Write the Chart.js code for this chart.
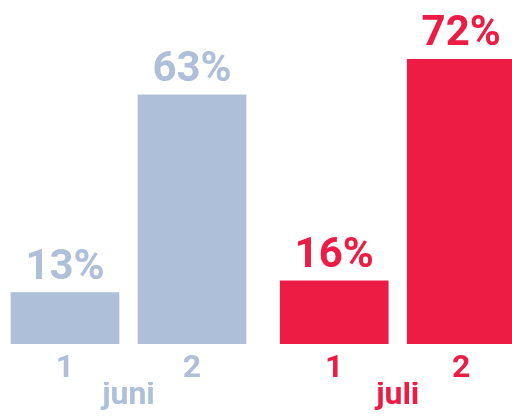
<!DOCTYPE html>
<html>
<head>
<meta charset="utf-8">
<script src="https://cdn.jsdelivr.net/npm/chart.js@4/dist/chart.umd.min.js"></script>
<style>
  html, body { margin: 0; padding: 0; background: #ffffff; }
  #wrap { width: 512px; height: 419px; }
</style>
</head>
<body>
<div id="wrap"><canvas id="c" width="512" height="419"></canvas></div>
<script>
// ---- data ----
const subLabels = ['1', '2', '1', '2'];
const groupLabels = ['juni', 'juli'];
const barGroup = [0, 0, 1, 1];
const values = [13, 63, 16, 72];
const valueLabels = ['13%', '63%', '16%', '72%'];

// ---- styles ----
const groupColors = ['#adbfd9', '#ed1c45'];
const FONT = 'Roboto';
const GROUP_GAP = 0.12;

const positions = values.map((v, i) => i + barGroup[i] * GROUP_GAP);
const groupCenters = groupLabels.map((g, gi) => {
  const ps = positions.filter((p, i) => barGroup[i] === gi);
  return ps.reduce((a, b) => a + b, 0) / ps.length;
});
const barColors = barGroup.map(g => groupColors[g]);

const X_MIN = -0.5118, X_MAX = 3.5197;

const valueLabelPlugin = {
  id: 'valueLabels',
  afterDatasetsDraw(chart) {
    const ctx = chart.ctx;
    const meta = chart.getDatasetMeta(0);
    ctx.save();
    ctx.font = 'bold 42px ' + FONT;
    ctx.textAlign = 'center';
    ctx.textBaseline = 'alphabetic';
    meta.data.forEach((bar, i) => {
      ctx.fillStyle = barColors[i];
      ctx.fillText(valueLabels[i], bar.x, bar.y - 14);
    });
    ctx.restore();
  }
};

const xCommon = {
  type: 'linear', position: 'bottom', offset: false,
  min: X_MIN, max: X_MAX, bounds: 'data',
  grid: { display: false, drawTicks: false, offset: false },
  border: { display: false }
};

new Chart(document.getElementById('c'), {
  type: 'bar',
  data: {
    datasets: [{
      data: values.map((v, i) => ({ x: positions[i], y: v })),
      backgroundColor: barColors,
      borderWidth: 0,
      barThickness: 108
    }]
  },
  options: {
    responsive: false,
    animation: false,
    devicePixelRatio: 1,
    layout: { padding: 0 },
    plugins: { legend: { display: false }, tooltip: { enabled: false } },
    scales: {
      y: { display: false, min: 0, max: 87 },
      x: Object.assign({}, xCommon, {
        weight: 1,
        afterBuildTicks(scale) { scale.ticks = positions.map(p => ({ value: p })); },
        afterFit(scale) { scale.height = 38; scale.paddingLeft = 0; scale.paddingRight = 0; },
        ticks: {
          autoSkip: false, maxRotation: 0, minRotation: 0, padding: 5.8,
          font: { family: FONT, size: 32, weight: 'bold' },
          color: (c) => barColors[c.index] || groupColors[0],
          callback: (v, i) => subLabels[i]
        }
      }),
      x2: Object.assign({}, xCommon, {
        weight: 2,
        afterBuildTicks(scale) { scale.ticks = groupCenters.map(p => ({ value: p })); },
        afterFit(scale) { scale.height = 37; scale.paddingLeft = 0; scale.paddingRight = 0; },
        ticks: {
          autoSkip: false, maxRotation: 0, minRotation: 0, padding: -5.2,
          font: { family: FONT, size: 32, weight: 'bold' },
          color: (c) => groupColors[c.index] || groupColors[0],
          callback: (v, i) => groupLabels[i]
        }
      })
    }
  },
  plugins: [valueLabelPlugin]
});
</script>
</body>
</html>
